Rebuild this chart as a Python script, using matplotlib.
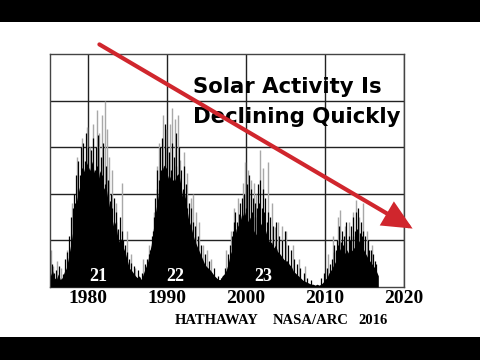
import numpy as np
import matplotlib
matplotlib.use("Agg")
import matplotlib.pyplot as plt
from matplotlib.patches import Rectangle, FancyArrowPatch

# black body of the sunspot record, quarterly values (1975.25 ...)
bulk = [12, 18, 10, 8,
        14, 8, 10, 16,
        20, 30, 42, 55,
        70, 90, 100, 110,
        120, 125, 135, 130,
        125, 135, 125, 118,
        112, 125, 118, 105,
        110, 95, 85, 75,
        65, 70, 55, 48,
        52, 42, 36, 28,
        20, 18, 15, 12,
        10, 12, 8, 14,
        20, 25, 35, 45,
        60, 78, 90, 105,
        120, 128, 132, 122,
        115, 120, 110, 115,
        120, 122, 110, 95,
        100, 85, 72, 66,
        58, 50, 45, 40,
        35, 30, 25, 22,
        20, 18, 15, 12,
        10, 8, 8, 12,
        14, 18, 25, 35,
        40, 50, 62, 66,
        70, 80, 75, 82,
        70, 75, 66, 60,
        56, 62, 70, 66,
        66, 60, 52, 48,
        48, 42, 45, 38,
        36, 33, 30, 28,
        28, 24, 22, 17,
        15, 13, 11, 9,
        7, 6, 5, 4,
        3, 3, 2, 3,
        2, 3, 5, 8,
        10, 15, 18, 22,
        26, 30, 38, 42,
        40, 36, 40, 36,
        38, 40, 43, 48,
        50, 46, 43, 38,
        34, 30, 27, 24,
        21, 17, 12]
bulk_start = 1975.25

# black spikes
black_years = [1975.4, 1975.7, 1975.9, 1976.3, 1976.8, 1977.1, 1977.4, 1977.6, 1977.9,
               1978.1, 1978.2, 1978.4, 1978.5, 1978.7, 1978.8, 1979.0, 1979.1, 1979.3,
               1979.4, 1979.6, 1979.7, 1979.9, 1980.0, 1980.2, 1980.4, 1980.5, 1980.7,
               1980.9, 1981.0, 1981.2, 1981.3, 1981.5, 1981.6, 1981.8, 1981.9, 1982.1,
               1982.3, 1982.5, 1982.6, 1982.8, 1982.9, 1983.1, 1983.3, 1983.5, 1983.6,
               1983.8, 1984.0, 1984.3, 1984.5, 1984.7, 1985.0, 1985.2, 1985.5, 1985.8,
               1986.3,
               1986.8, 1987.2, 1987.5, 1987.7, 1987.9, 1988.1, 1988.2, 1988.4, 1988.5,
               1988.7, 1988.8, 1989.0, 1989.1, 1989.3, 1989.4, 1989.6, 1989.7, 1989.9,
               1990.0, 1990.2, 1990.3, 1990.5, 1990.6, 1990.8, 1990.9, 1991.1, 1991.2,
               1991.4, 1991.5, 1991.7, 1991.8, 1992.0, 1992.1, 1992.3, 1992.4, 1992.6,
               1992.8, 1993.1, 1993.3, 1993.5, 1993.9, 1994.3, 1994.8, 1995.3, 1995.9,
               1996.4,
               1996.9, 1997.3, 1997.7, 1998.0, 1998.2, 1998.3, 1998.5, 1998.6, 1998.9,
               1999.1, 1999.2, 1999.4, 1999.5, 1999.7, 1999.8, 2000.0, 2000.1, 2000.4,
               2000.6, 2000.8, 2000.9, 2001.1, 2001.2, 2001.4, 2001.5, 2001.7, 2001.8,
               2002.0, 2002.1, 2002.3, 2002.4, 2002.6, 2002.8, 2003.1, 2003.4, 2003.8,
               2004.2, 2004.6, 2004.9, 2005.3, 2005.7, 2006.1, 2006.5, 2006.9, 2007.3,
               2007.7, 2008.2,
               2009.5, 2009.9, 2010.3, 2010.6, 2010.9, 2011.1, 2011.2, 2011.4, 2011.5,
               2011.7, 2011.8, 2012.0, 2012.1, 2012.3, 2012.4, 2012.6, 2012.7, 2013.0,
               2013.2, 2013.3, 2013.5, 2013.6, 2013.8, 2013.9, 2014.1, 2014.2, 2014.4,
               2014.5, 2014.7, 2014.8, 2015.1, 2015.4, 2015.6, 2015.8, 2016.1, 2016.3,
               2016.5]
black_heights = [25, 15, 18, 22, 14, 30, 38, 55, 75,
                 85, 100, 90, 120, 105, 135, 120, 150, 128,
                 155, 135, 165, 130, 150, 120, 147, 128, 160,
                 125, 150, 130, 163, 118, 140, 120, 155, 110,
                 130, 100, 115, 92, 100, 85, 95, 70, 80,
                 62, 75, 60, 50, 45, 38, 30, 26, 22,
                 18,
                 15, 25, 30, 35, 40, 55, 60, 75, 95,
                 105, 125, 115, 150, 125, 160, 130, 175, 128,
                 150, 118, 145, 125, 155, 115, 140, 130, 165,
                 120, 150, 110, 125, 105, 130, 95, 110, 85,
                 90, 85, 70, 65, 55, 45, 35, 28, 20,
                 12,
                 10, 20, 35, 45, 55, 60, 70, 80, 70,
                 78, 90, 72, 95, 80, 100, 85, 110, 120,
                 105, 80, 95, 75, 90, 85, 110, 90, 115,
                 85, 105, 80, 95, 70, 80, 75, 65, 70,
                 55, 50, 60, 45, 40, 30, 25, 20, 15,
                 10, 8,
                 10, 15, 20, 25, 30, 38, 45, 40, 50,
                 45, 65, 48, 60, 45, 55, 48, 70, 55,
                 50, 65, 55, 75, 60, 80, 62, 85, 58,
                 70, 55, 60, 55, 50, 40, 40, 35, 28,
                 25]

# gray spikes reaching above the black body
gray_years = [1975.3, 1975.6, 1976.1, 1976.6, 1977.4, 1978.0, 1978.6, 1979.2, 1979.9,
              1980.3, 1980.6, 1981.1, 1981.4, 1981.8, 1982.1, 1982.4, 1982.7, 1983.0,
              1983.6, 1984.3, 1984.9, 1985.5, 1986.0,
              1987.0, 1987.7, 1988.3, 1988.7, 1989.0, 1989.5, 1989.9, 1990.4, 1990.7,
              1991.0, 1991.4, 1991.7, 1992.2, 1992.6, 1993.0, 1993.3, 1993.7, 1994.0,
              1994.6, 1995.1, 1995.6,
              1997.5, 1998.1, 1998.5, 1999.0, 1999.6, 1999.9, 2000.2, 2000.7, 2001.0,
              2001.3, 2001.8, 2002.2, 2002.8, 2003.3, 2003.7, 2004.0, 2004.5, 2005.1,
              2005.9, 2006.7, 2007.5,
              2010.4, 2011.0, 2011.6, 2011.9, 2012.5, 2013.0, 2013.5, 2013.9, 2014.3,
              2014.8, 2015.3, 2016.0]
gray_heights = [40, 22, 28, 20, 40, 90, 140, 160, 172,
                150, 175, 190, 165, 185, 200, 170, 140, 125,
                90, 112, 60, 35, 20,
                30, 45, 80, 130, 155, 185, 170, 175, 192,
                180, 185, 136, 145, 122, 95, 100, 80, 70,
                45, 40, 30,
                40, 60, 85, 95, 112, 134, 125, 115, 112,
                100, 147, 128, 134, 90, 64, 70, 65, 60,
                45, 30, 22,
                35, 55, 75, 83, 65, 70, 80, 93, 75,
                90, 60, 45]

years = [1980, 1990, 2000, 2010, 2020]
cycle_labels = ["21", "22", "23"]
cycle_x = [1981.3, 1991.0, 2002.2]

fig = plt.figure(figsize=(4.8, 3.6), dpi=100)
fig.patch.set_facecolor("white")
# letterbox bands
fig.patches.append(Rectangle((0, 1 - 22 / 360), 1, 22 / 360, transform=fig.transFigure,
                             facecolor="black", zorder=0))
fig.patches.append(Rectangle((0, 0), 1, 23 / 360, transform=fig.transFigure,
                             facecolor="black", zorder=0))

ax = fig.add_axes([50 / 480, 73 / 360, 354 / 480, 233 / 360])
ax.set_xlim(1975.2, 2020)
ax.set_ylim(0, 250)

t = bulk_start + 0.25 * np.arange(len(bulk))
ax.vlines(gray_years, 0, gray_heights, color="#a8a8a8", lw=1.0, zorder=2)
ax.fill_between(t, 0, bulk, color="black", lw=0, zorder=3)
ax.vlines(black_years, 0, black_heights, color="black", lw=0.9, zorder=3)

ax.set_xticks(years)
ax.set_xticklabels([str(y) for y in years], family="Liberation Serif",
                   fontweight="bold", fontsize=14)
ax.set_yticks([50, 100, 150, 200])
ax.set_yticklabels([])
ax.tick_params(length=0, pad=2)
ax.grid(True, color="#222222", lw=1.0, zorder=1)
ax.set_axisbelow(True)
for s in ax.spines.values():
    s.set_color("#444444")
    s.set_linewidth(1.0)

for lab, x in zip(cycle_labels, cycle_x):
    ax.text(x, 11, lab, color="white", family="Liberation Serif", fontweight="bold",
            fontsize=13, ha="center", va="center", zorder=5)

credit = ["HATHAWAY", "NASA/ARC", "2016"]
credit_x = [175, 273, 358]
for word, x in zip(credit, credit_x):
    fig.text(x / 480, 1 - 320 / 360, word, family="Liberation Serif",
             fontweight="bold", fontsize=10.5, ha="left", va="center")

fig.text(193 / 480, 1 - 93 / 360, "Solar Activity Is", family="DejaVu Sans",
         fontweight="bold", fontsize=15.3, ha="left", va="baseline", zorder=6)
fig.text(193 / 480, 1 - 123 / 360, "Declining Quickly", family="DejaVu Sans",
         fontweight="bold", fontsize=15.3, ha="left", va="baseline", zorder=6)

fig.add_artist(FancyArrowPatch(
    (97 / 480, 1 - 43 / 360), (415 / 480, 1 - 230 / 360), transform=fig.transFigure,
    arrowstyle="-|>,head_length=0.75,head_width=0.35", mutation_scale=22,
    color="#d0262d", lw=3.0, joinstyle="miter", zorder=7))

fig.savefig("out.png", dpi=100)
